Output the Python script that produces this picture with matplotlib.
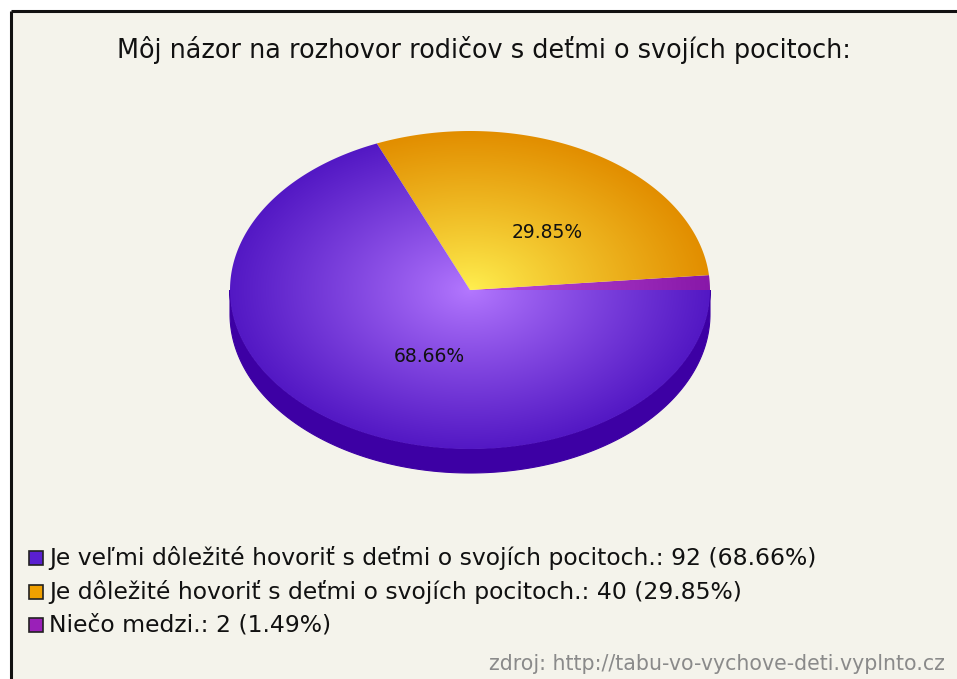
import numpy as np
import matplotlib
matplotlib.use("Agg")
import matplotlib.pyplot as plt
from matplotlib.patches import Polygon, Rectangle
from matplotlib.colors import to_rgb

title = "Môj názor na rozhovor rodičov s deťmi o svojích pocitoch:"
labels = ["Je veľmi dôležité hovoriť s deťmi o svojích pocitoch.",
          "Je dôležité hovoriť s deťmi o svojích pocitoch.",
          "Niečo medzi."]
values = [92, 40, 2]
legend_colors = ["#5a1fd0", "#f0a000", "#9a20b8"]
center_colors = ["#b478ff", "#fff050", "#c050e0"]
edge_colors = ["#5318c4", "#e28e00", "#8818a8"]
side_color = "#3d00a4"
source = "zdroj: http://tabu-vo-vychove-deti.vyplnto.cz"

W, H = 957, 679
fig = plt.figure(figsize=(W / 100, H / 100), dpi=100)
fig.patch.set_facecolor("white")
ax = fig.add_axes([0, 0, 1, 1])
ax.set_xlim(0, W)
ax.set_ylim(H, 0)
ax.axis("off")

# background and border
ax.add_patch(Rectangle((11, 11), W, H, facecolor="#f4f3eb", edgecolor="none", zorder=0))
ax.plot([11, 11], [H, 11], color="#111111", lw=2.2, zorder=1, solid_capstyle="butt")
ax.plot([11, W], [11, 11], color="#111111", lw=2.2, zorder=1, solid_capstyle="butt")

ax.text(484, 50, title, ha="center", va="center", fontsize=18.4, color="#111111",
        family="DejaVu Sans")

# pie geometry (pixel space)
cx, cy, rx, ry, depth = 470, 290, 240, 159, 24
total = sum(values)
fracs = [v / total for v in values]

# order: start at 0 deg going counter-clockwise: last label first
order = [2, 1, 0]
angles = {}
a = 0.0
for i in order:
    angles[i] = (a, a + fracs[i] * 360)
    a += fracs[i] * 360

def rim(t0, t1, n=200):
    t = np.radians(np.linspace(t0, t1, n))
    return np.column_stack([cx + rx * np.cos(t), cy - ry * np.sin(t)])

# side wall (front half)
for i in order:
    t0, t1 = angles[i]
    s0, s1 = max(t0, 180), min(t1, 360)
    if s1 > s0:
        top = rim(s0, s1)
        bot = top[::-1] + np.array([0, depth])
        ax.add_patch(Polygon(np.vstack([top, bot]), closed=True, facecolor=side_color,
                             edgecolor=side_color, lw=0.8, zorder=2))
top = rim(-2, 0)
ax.add_patch(Polygon(np.vstack([top, top[::-1] + np.array([0, depth])]), closed=True,
                     facecolor=side_color, edgecolor="none", zorder=2))

# gradient top faces
xs = np.linspace(cx - rx - 2, cx + rx + 2, 500)
ys = np.linspace(cy - ry - 2, cy + ry + 2, 340)
X, Y = np.meshgrid(xs, ys)
R = np.clip(np.sqrt(((X - cx) / rx) ** 2 + ((Y - cy) / ry) ** 2), 0, 1)
Rw = R ** 0.9
for i in order:
    t0, t1 = angles[i]
    pts = np.vstack([[cx, cy], rim(t0, t1, 300)])
    c0 = np.array(to_rgb(center_colors[i]))
    c1 = np.array(to_rgb(edge_colors[i]))
    img = c0[None, None, :] * (1 - Rw[..., None]) + c1[None, None, :] * Rw[..., None]
    poly = Polygon(pts, closed=True, facecolor="none", edgecolor="none", zorder=3)
    ax.add_patch(poly)
    im = ax.imshow(img, extent=(xs[0], xs[-1], ys[-1], ys[0]), origin="upper",
                   zorder=3, interpolation="bilinear", aspect="auto")
    im.set_clip_path(poly)

ax.set_xlim(0, W)
ax.set_ylim(H, 0)

# percentage labels
ax.text(547, 233, f"{fracs[1]*100:.2f}%", ha="center", va="center", fontsize=13.5,
        color="#111111", zorder=5)
ax.text(429, 357, f"{fracs[0]*100:.2f}%", ha="center", va="center", fontsize=13.5,
        color="#111111", zorder=5)

# legend
ly = [558, 592, 625]
for i in range(3):
    ax.add_patch(Rectangle((29, ly[i] - 7), 14, 14, facecolor=legend_colors[i],
                           edgecolor="#222222", lw=1.2, zorder=5))
    ax.text(49, ly[i], f"{labels[i]}: {values[i]} ({fracs[i]*100:.2f}%)", ha="left",
            va="center", fontsize=16.9, color="#111111", zorder=5)

ax.text(945, 664, source, ha="right", va="center", fontsize=14.8, color="#8a8a8a", zorder=5)

fig.savefig("out.png", dpi=100, facecolor=fig.get_facecolor())
